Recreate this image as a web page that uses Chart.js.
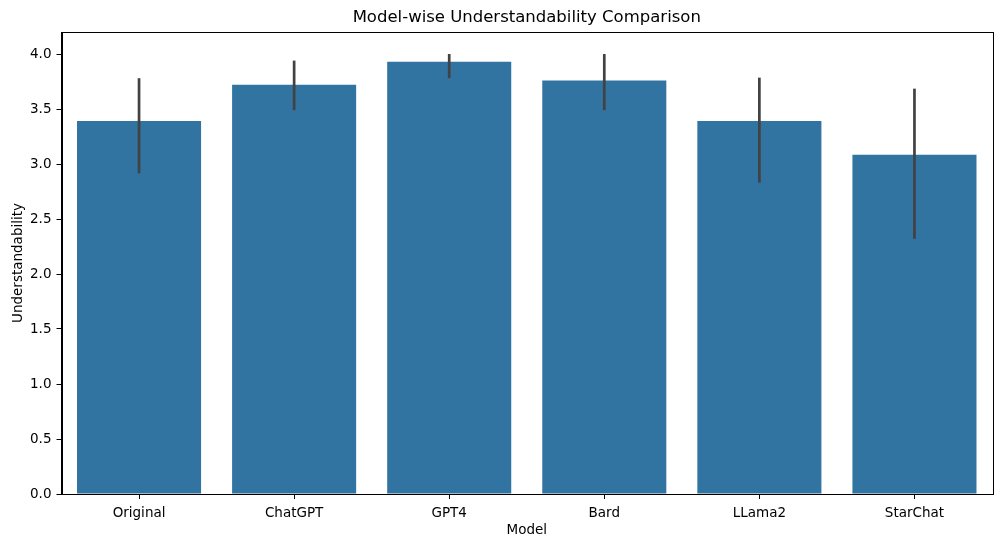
<!DOCTYPE html>
<html>
<head>
<meta charset="utf-8">
<script src="https://cdn.jsdelivr.net/npm/chart.js@4"></script>
<style>
html,body{margin:0;padding:0;background:#fff;}
#wrap{width:1001px;height:547px;}
</style>
</head>
<body>
<div id="wrap"><canvas id="c" width="1001" height="547"></canvas></div>
<script>
const categories = ["Original", "ChatGPT", "GPT4", "Bard", "LLama2", "StarChat"];
const meanValues = [3.39, 3.72, 3.93, 3.76, 3.39, 3.085];
const errLow = [2.915, 3.49, 3.78, 3.49, 2.83, 2.32];
const errHigh = [3.78, 3.94, 4.0, 4.0, 3.785, 3.685];
const yTicks = [0, 0.5, 1.0, 1.5, 2.0, 2.5, 3.0, 3.5, 4.0];

const FONT = "'DejaVu Sans', sans-serif";

const errorBars = {
  id: 'errorBars',
  afterDatasetsDraw(chart) {
    const ctx = chart.ctx;
    const meta = chart.getDatasetMeta(0);
    const ys = chart.scales.y;
    ctx.save();
    ctx.strokeStyle = '#424242';
    ctx.lineWidth = 2.7;
    ctx.lineCap = 'butt';
    meta.data.forEach((bar, i) => {
      ctx.beginPath();
      ctx.moveTo(bar.x, ys.getPixelForValue(errLow[i]));
      ctx.lineTo(bar.x, ys.getPixelForValue(errHigh[i]));
      ctx.stroke();
    });
    ctx.restore();
  }
};

const frame = {
  id: 'frame',
  afterDraw(chart) {
    const a = chart.chartArea;
    const ctx = chart.ctx;
    const xs = chart.scales.x;
    ctx.save();
    ctx.strokeStyle = '#000';
    ctx.lineWidth = 1;
    ctx.strokeRect(Math.round(a.left) + 0.5, Math.round(a.top) + 0.5,
      Math.round(a.right - a.left), Math.round(a.bottom - a.top));
    const yb = Math.round(a.bottom) + 0.5;
    categories.forEach((c, i) => {
      const x = Math.round(xs.getPixelForValue(i)) + 0.5;
      ctx.beginPath();
      ctx.moveTo(x, yb);
      ctx.lineTo(x, yb + 4.5);
      ctx.stroke();
    });
    ctx.restore();
  }
};

new Chart(document.getElementById('c'), {
  type: 'bar',
  data: {
    labels: categories,
    datasets: [{
      data: meanValues,
      backgroundColor: '#3274a1',
      borderWidth: 0,
      barPercentage: 0.8,
      categoryPercentage: 1.0
    }]
  },
  options: {
    responsive: false,
    animation: false,
    devicePixelRatio: 1,
    layout: { padding: { left: 0, right: 9, top: 0, bottom: 0 } },
    plugins: {
      legend: { display: false },
      tooltip: { enabled: false },
      title: {
        display: true,
        fullSize: false,
        text: 'Model-wise Understandability Comparison',
        color: '#000',
        font: { family: FONT, size: 16.5, weight: 'normal' },
        padding: { top: 8, bottom: 4.2 }
      }
    },
    scales: {
      x: {
        offset: true,
        grid: { display: false, tickLength: 5 },
        border: { display: true, color: '#000', width: 1 },
        ticks: { color: '#000', font: { family: FONT, size: 13.5 }, padding: 6, maxRotation: 0 },
        title: { display: true, text: 'Model', color: '#000', font: { family: FONT, size: 13.5 }, padding: { top: 2, bottom: 8 } },
        afterFit(axis) { axis.height = 53; }
      },
      y: {
        min: 0,
        max: 4.2,
        afterBuildTicks(axis) { axis.ticks = yTicks.map(v => ({ value: v })); },
        grid: { display: true, drawOnChartArea: false, drawTicks: true, tickLength: 5, color: '#000' },
        border: { display: true, color: '#000', width: 1 },
        ticks: {
          color: '#000', font: { family: FONT, size: 13.5 }, padding: 5,
          callback: v => Number(v).toFixed(1)
        },
        title: { display: true, text: 'Understandability', color: '#000', font: { family: FONT, size: 13.5 }, padding: { top: 10, bottom: 2 } },
        afterFit(axis) { axis.width = 61.5; }
      }
    }
  },
  plugins: [errorBars, frame]
});
</script>
</body>
</html>
